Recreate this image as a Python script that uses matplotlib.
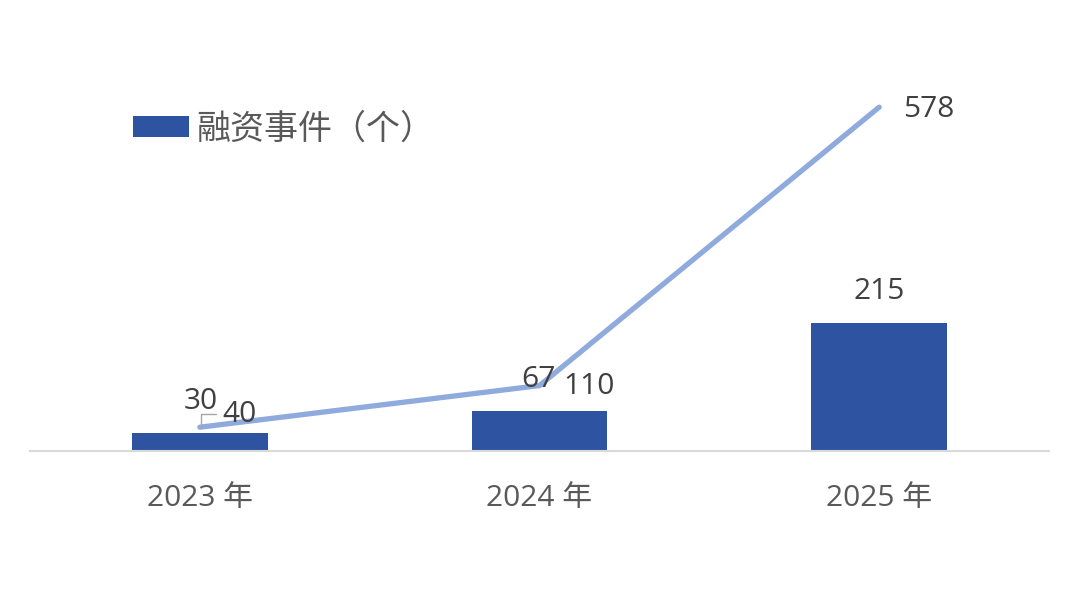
import numpy as np
import matplotlib
matplotlib.use('Agg')
import matplotlib.pyplot as plt
from matplotlib.patches import Patch

plt.rcParams['font.family'] = ['Open Sans', 'Noto Sans CJK SC', 'DejaVu Sans']

# data
years = ['2023 年', '2024 年', '2025 年']
events = [30, 67, 215]      # bars: 融资事件（个）
line_vals = [40, 110, 578]  # line series
bar_name = '融资事件（个）'

bar_color = '#2E54A1'
line_color = '#8FAADC'
text_color = '#404040'
tick_color = '#595959'

fig = plt.figure(figsize=(10.8, 6.16), dpi=100)
# axes: x from 30 to 1049 px, baseline at y=451 px
ax = fig.add_axes([30/1080, (616-451)/616, 1019/1080, 0.676])

x = np.arange(len(years))
ax.bar(x, events, width=0.40, color=bar_color, zorder=2)
ax.plot(x, line_vals, color=line_color, lw=3.8, solid_capstyle='round', zorder=3)

ax.set_xlim(-0.5, 2.5)
ax.set_ylim(0, 700)

for s in ['top', 'right', 'left']:
    ax.spines[s].set_visible(False)
ax.spines['bottom'].set_color('#D9D9D9')
ax.spines['bottom'].set_linewidth(1.5)
ax.set_yticks([])
ax.set_xticks(x)
ax.set_xticklabels(years, fontsize=21.5, color=tick_color)
ax.tick_params(axis='x', length=0, pad=24)

fs = 21.5
# bar value labels
bar_offsets = [(1, 32), (-1, 32), (0, 32)]
for i, v in enumerate(events):
    ax.annotate(str(v), (x[i], v), xytext=bar_offsets[i], textcoords='offset pixels',
                ha='center', va='center', fontsize=fs, color=text_color, zorder=4)

# leader for first bar label
ax.annotate('', xy=(x[0] + 0.003, line_vals[0]), xycoords='data',
            xytext=(15, 13), textcoords='offset pixels',
            arrowprops=dict(arrowstyle='-', color='#A6A6A6', lw=1,
                            connectionstyle='angle,angleA=0,angleB=90,rad=0',
                            shrinkA=0, shrinkB=0))

# line value labels
line_offsets = [(40, 13), (50, -1), (50, -2)]
for i, v in enumerate(line_vals):
    ax.annotate(str(v), (x[i], v), xytext=line_offsets[i], textcoords='offset pixels',
                ha='center', va='center', fontsize=fs, color=text_color, zorder=4)

handle = Patch(facecolor=bar_color, edgecolor='none')
fig.legend([handle], [bar_name], loc='center left',
           bbox_to_anchor=(133/1080, 1 - 129/616), bbox_transform=fig.transFigure,
           frameon=False, prop={'family': ['Noto Sans CJK SC'], 'size': 24.5},
           labelcolor=tick_color,
           handlelength=1.65, handleheight=0.6, handletextpad=0.2,
           borderpad=0, borderaxespad=0)

fig.savefig('out.png', dpi=100)
